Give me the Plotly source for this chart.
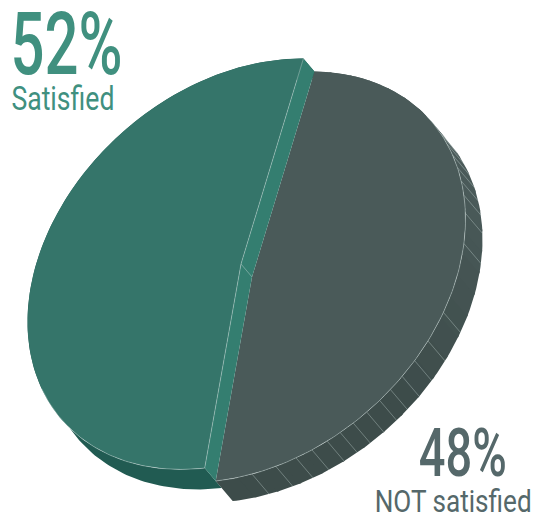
import json
import numpy as np
import plotly.graph_objects as go

# Survey result
labels = ["Satisfied", "NOT satisfied"]
shares = [52, 48]
share_text = ["52%", "48%"]

# Rim score marks on the darker wedge, degrees round the disc
rim_marks = [197, 203.4, 208.9, 213.3, 217.6, 221.4, 225.3, 229.5, 233.7, 237.4,
             241.7, 246.6, 252.5, 260.7, 280, 288.7, 294.1, 298.5, 302.8, 307, 311, 315]

# Oblique projection of the disc onto the page (pixel units)
CENTER = np.array([241.0, 264.0])
AXIS_A = np.array([62.4, -205.4])
AXIS_B = np.array([-204.2, -2.24])
LIFT = np.array([11.0, 13.0])    # step between the raised wedge and the lower one
DEPTH = np.array([17.0, 20.0])   # thickness of the disc

GREEN_TOP = "#35756a"
GREEN_WALL = "#347e70"
GREEN_RIM = "#215b52"
GRAY_TOP = (74, 90, 89)
GRAY_RIM = (61, 76, 74)
EDGE = "rgba(205,222,218,0.6)"
GREEN_TEXT = "#40907f"
GRAY_TEXT = "#55686a"


def disc(deg, offset=(0.0, 0.0)):
    t = np.radians(np.asarray(deg, dtype=float))
    pts = CENTER + np.outer(np.cos(t), AXIS_A) + np.outer(np.sin(t), AXIS_B)
    return pts + np.asarray(offset)


def polygon(fig, pts, color):
    fig.add_trace(go.Scatter(x=pts[:, 0], y=pts[:, 1], mode="lines", fill="toself",
                             fillcolor=color, line=dict(width=0), hoverinfo="skip"))


def stroke(fig, pts, width=0.7):
    fig.add_trace(go.Scatter(x=pts[:, 0], y=pts[:, 1], mode="lines",
                             line=dict(color=EDGE, width=width), hoverinfo="skip"))


def rim_shade(deg):
    # The wall lightens towards the face colour as it turns to the upper right
    w = np.clip((deg - 235) / 60, 0, 1)
    r, g, b = (np.array(GRAY_RIM) * (1 - w) + np.array(GRAY_TOP) * w).round().astype(int)
    return f"rgb({r},{g},{b})"


split = 360.0 * shares[0] / sum(shares)
green_arc = np.linspace(0, split, 160)
gray_arc = np.linspace(split, 360, 160)

fig = go.Figure()

# Outer walls first, so the faces sit on top of them
polygon(fig, np.vstack([disc(green_arc), disc(green_arc, DEPTH)[::-1]]), GREEN_RIM)

steps = np.arange(split, 360, 6.0)
for lo in steps:
    seg = np.linspace(lo, min(lo + 6.6, 360), 8)
    polygon(fig, np.vstack([disc(seg, LIFT), disc(seg, LIFT + DEPTH)[::-1]]), rim_shade(lo))

for deg in rim_marks:
    stroke(fig, np.vstack([disc([deg], LIFT), disc([deg], LIFT + DEPTH)]), 0.6)

# Lower wedge face
gray_face = np.vstack([CENTER + LIFT, disc(gray_arc, LIFT), CENTER + LIFT])
polygon(fig, gray_face, "rgb(%d,%d,%d)" % GRAY_TOP)
stroke(fig, disc(np.linspace(split, 322, 120), LIFT))

# Step between the two wedges
ends = disc([0, split])
wall = np.vstack([ends[0], ends[0] + LIFT, CENTER + LIFT, ends[1] + LIFT, ends[1], CENTER, ends[0]])
polygon(fig, wall, GREEN_WALL)
stroke(fig, np.vstack([CENTER, CENTER + LIFT]))

# Raised wedge face
green_face = np.vstack([CENTER, disc(green_arc), CENTER])
polygon(fig, green_face, GREEN_TOP)
stroke(fig, np.vstack([ends[0], CENTER, ends[1]]))
stroke(fig, disc(np.linspace(128, split, 80)))

# Text: centre x, centre y, string, size, weight, colour, set width
notes = [
    (66, 43.5, share_text[0], 87, 500, GREEN_TEXT, 112),
    (62.5, 98, labels[0], 33, 400, GREEN_TEXT, 103),
    (463, 453, share_text[1], 67, 500, GRAY_TEXT, 88),
    (452.5, 501, labels[1], 32, 400, GRAY_TEXT, 157),
]
for x, y, text, size, weight, color, _ in notes:
    fig.add_annotation(x=x, y=y, xref="x", yref="y", text=text, showarrow=False,
                       xanchor="center", yanchor="middle",
                       font=dict(family="Roboto", size=size, weight=weight, color=color))

fig.update_layout(
    width=534, height=515, autosize=False, showlegend=False,
    margin=dict(l=0, r=0, t=0, b=0),
    paper_bgcolor="white", plot_bgcolor="white",
    xaxis=dict(range=[0, 534], visible=False, fixedrange=True),
    yaxis=dict(range=[515, 0], visible=False, fixedrange=True),
)

# The lettering is condensed, so each string is squeezed to its set width
widths = json.dumps([n[-1] for n in notes])
condense = f"""
var w = {widths};
document.querySelectorAll('text.annotation-text').forEach(function (t, i) {{
  t.setAttribute('textLength', w[i]);
  t.setAttribute('lengthAdjust', 'spacingAndGlyphs');
}});
"""

fig.write_html("out.html", config={"displayModeBar": False}, post_script=condense)
